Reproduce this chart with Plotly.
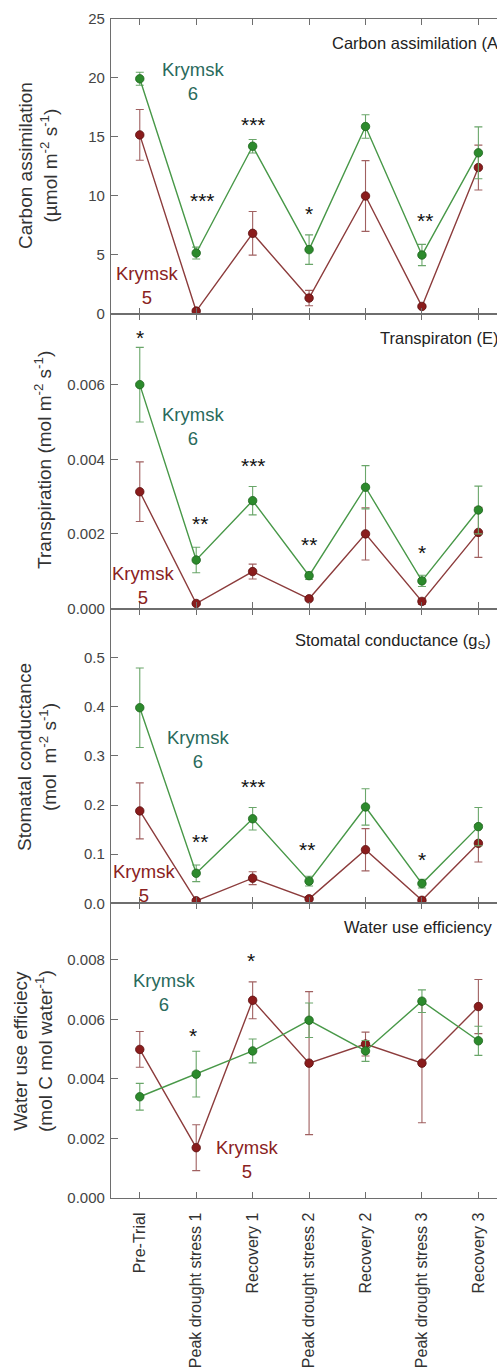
import plotly.graph_objects as go
from plotly.subplots import make_subplots

stages = ["Pre-Trial", "Peak drought stress 1", "Recovery 1", "Peak drought stress 2",
          "Recovery 2", "Peak drought stress 3", "Recovery 3"]

# Carbon assimilation (A)
A_k6 = [19.93, 5.15, 14.21, 5.44, 15.88, 4.98, 13.65]
A_k6_err = [0.55, 0.5, 0.57, 1.25, 1.0, 0.9, 2.2]
A_k5 = [15.17, 0.23, 6.82, 1.33, 9.99, 0.62, 12.4]
A_k5_err = [2.15, 0.15, 1.85, 0.65, 3.0, 0.12, 1.9]
A_stars = ["", "***", "***", "*", "", "**", ""]
A_star_y = [None, 9.4, 15.9, 8.3, None, 7.7, None]

# Transpiration (E)
E_k6 = [0.0060, 0.0013, 0.00289, 0.00088, 0.00325, 0.00074, 0.00264]
E_k6_err = [0.001, 0.00034, 0.00038, 0.0001, 0.00058, 0.00015, 0.00064]
E_k5 = [0.00313, 0.000134, 0.00099, 0.00026, 0.0020, 0.00019, 0.00204]
E_k5_err = [0.0008, 0.00003, 0.0002, 0.00005, 0.0007, 0.00008, 0.00067]
E_stars = ["*", "**", "***", "**", "", "*", ""]
E_star_y = [0.0072, 0.00222, 0.00378, 0.00165, None, 0.00144, None]

# Stomatal conductance (gs)
G_k6 = [0.398, 0.061, 0.172, 0.045, 0.196, 0.040, 0.156]
G_k6_err = [0.081, 0.017, 0.023, 0.010, 0.037, 0.009, 0.039]
G_k5 = [0.188, 0.005, 0.051, 0.009, 0.109, 0.006, 0.122]
G_k5_err = [0.057, 0.003, 0.013, 0.004, 0.043, 0.003, 0.038]
G_stars = ["", "**", "***", "**", "", "*", ""]
G_star_y = [None, 0.122, 0.234, 0.105, None, 0.084, None]

# Water use efficiency
W_k6 = [0.0034, 0.00416, 0.00494, 0.00597, 0.00494, 0.00661, 0.00528]
W_k6_err = [0.00045, 0.00077, 0.0004, 0.00058, 0.00035, 0.00038, 0.00049]
W_k5 = [0.00499, 0.00169, 0.00664, 0.00453, 0.00517, 0.00453, 0.00643]
W_k5_err = [0.0006, 0.00077, 0.00062, 0.0024, 0.0004, 0.002, 0.00091]
W_stars = ["", "*", "*", "", "", "", ""]
W_star_y = [None, 0.0054, 0.0079, None, None, None, None]

panels = [
    (A_k6, A_k6_err, A_k5, A_k5_err, A_stars, A_star_y),
    (E_k6, E_k6_err, E_k5, E_k5_err, E_stars, E_star_y),
    (G_k6, G_k6_err, G_k5, G_k5_err, G_stars, G_star_y),
    (W_k6, W_k6_err, W_k5, W_k5_err, W_stars, W_star_y),
]
# small horizontal nudges of star labels (pixels), per panel
star_dx = [[0, 6, 1, 0, 0, 3, 0],
           [0, 4, 1, 0, 0, 0, 0],
           [0, 4, 1, -2, 0, 0, 0],
           [0, -3, -2, 0, 0, 0, 0]]

FONT = "Liberation Sans, Arial, sans-serif"
AXC = "#6e6e6e"
GREEN_M, GREEN_L, GREEN_E, GREEN_O = "#2c8a2c", "#489848", "#6aa66a", "#1e641e"
RED_M, RED_L, RED_E, RED_O = "#8a1c1c", "#8c3c3c", "#a06060", "#5c1010"
K6_TXT, K5_TXT = "#2a6a5c", "#8a2222"

W, H = 497, 1369
PL, PR, PT, PB = 111, 497, 19, 1198


def px(x):
    return (x - PL) / (PR - PL)


def py(y):
    return (PB - y) / (PB - PT)


fig = make_subplots(rows=4, cols=1, shared_xaxes=True, vertical_spacing=0)
xi = list(range(len(stages)))

for r, (g, ge, rd, re, stars, sy) in enumerate(panels, start=1):
    fig.add_trace(go.Scatter(
        x=xi, y=rd, mode="lines+markers",
        line=dict(color=RED_L, width=1.4),
        marker=dict(size=8.5, color=RED_M, line=dict(color=RED_O, width=0.8)),
        error_y=dict(type="data", array=re, color=RED_E, thickness=1.1, width=4),
        showlegend=False), row=r, col=1)
    fig.add_trace(go.Scatter(
        x=xi, y=g, mode="lines+markers",
        line=dict(color=GREEN_L, width=1.4),
        marker=dict(size=8.5, color=GREEN_M, line=dict(color=GREEN_O, width=0.8)),
        error_y=dict(type="data", array=ge, color=GREEN_E, thickness=1.1, width=4),
        showlegend=False), row=r, col=1)
    for i, s in enumerate(stars):
        if s:
            fig.add_annotation(x=xi[i], y=sy[i], xref=f"x{r if r > 1 else ''}",
                               yref=f"y{r if r > 1 else ''}", text=s, showarrow=False,
                               yshift=2, xshift=star_dx[r - 1][i],
                               font=dict(size=21, color="#111", family=FONT))

yranges = [[0, 25], [0, 0.0079], [0, 0.6], [0, 0.0099]]
ytickvals = [[0, 5, 10, 15, 20, 25],
             [0, 0.002, 0.004, 0.006],
             [0, 0.1, 0.2, 0.3, 0.4, 0.5],
             [0, 0.002, 0.004, 0.006, 0.008]]
yfmt = ["d", ".3f", ".1f", ".3f"]

for r in range(1, 5):
    fig.update_yaxes(row=r, col=1, range=yranges[r - 1], tickvals=ytickvals[r - 1],
                     tickformat=yfmt[r - 1], showline=True, linecolor=AXC, linewidth=1.3,
                     ticks="inside", ticklen=7, tickcolor=AXC, tickwidth=1.2,
                     showgrid=False, zeroline=False, ticklabelstandoff=2,
                     tickfont=dict(size=15, color="#444", family=FONT))
    fig.update_xaxes(row=r, col=1, range=[-0.51, 6.33], tickvals=xi, ticktext=stages,
                     showline=True, mirror="ticks", linecolor=AXC, linewidth=1.3,
                     ticks="inside", ticklen=6, tickcolor=AXC, tickwidth=1.2,
                     showgrid=False, zeroline=False, showticklabels=(r == 4),
                     tickangle=-90, ticklabelstandoff=7,
                     tickfont=dict(size=16, color="#333", family=FONT))

# axis titles
ytitles = [
    ("Carbon assimilation<br>(µmol m<sup>-2</sup> s<sup>-1</sup>)", 38, 166),
    ("Transpiration (mol m<sup>-2</sup> s<sup>-1</sup>)", 43, 460),
    ("Stomatal conductance<br>(mol  m<sup>-2</sup> s<sup>-1</sup>)", 37, 757),
    ("Water use efficiecy<br>(mol C mol water<sup>-1</sup>)", 33, 1051),
]
for t, x, y in ytitles:
    fig.add_annotation(x=px(x), y=py(y), xref="paper", yref="paper", text=t,
                       textangle=-90, showarrow=False, xanchor="center", yanchor="middle",
                       font=dict(size=19, color="#333", family=FONT))

# panel titles (cut at the right edge, as in the source image)
ptitles = [
    ("Carbon assimilation (A)", 330, 43),
    ("Transpiraton (E)", 378, 338),
    ("Stomatal conductance (g<sub>S</sub>)", 293, 641),
    ("Water use efficiency", 342, 927),
]
for t, x, y in ptitles:
    fig.add_annotation(x=px(x), y=py(y), xref="paper", yref="paper", text=t,
                       showarrow=False, xanchor="left", yanchor="middle",
                       font=dict(size=16.5, color="#222", family=FONT))

# series labels
labels = [
    ("Krymsk<br>6", K6_TXT, 193, 81),
    ("Krymsk<br>5", K5_TXT, 147, 286),
    ("Krymsk<br>6", K6_TXT, 193, 426),
    ("Krymsk<br>5", K5_TXT, 143, 585),
    ("Krymsk<br>6", K6_TXT, 198, 749),
    ("Krymsk<br>5", K5_TXT, 144, 884),
    ("Krymsk<br>6", K6_TXT, 164, 992),
    ("Krymsk<br>5", K5_TXT, 247, 1159),
]
for t, c, x, y in labels:
    fig.add_annotation(x=px(x), y=py(y), xref="paper", yref="paper", text=t,
                       showarrow=False, xanchor="center", yanchor="middle",
                       font=dict(size=18.5, color=c, family=FONT))

fig.update_layout(width=W, height=H, margin=dict(l=PL, r=W - PR, t=PT, b=H - PB),
                  paper_bgcolor="white", plot_bgcolor="white", showlegend=False,
                  font=dict(family=FONT))

fig.write_html("out.html")
